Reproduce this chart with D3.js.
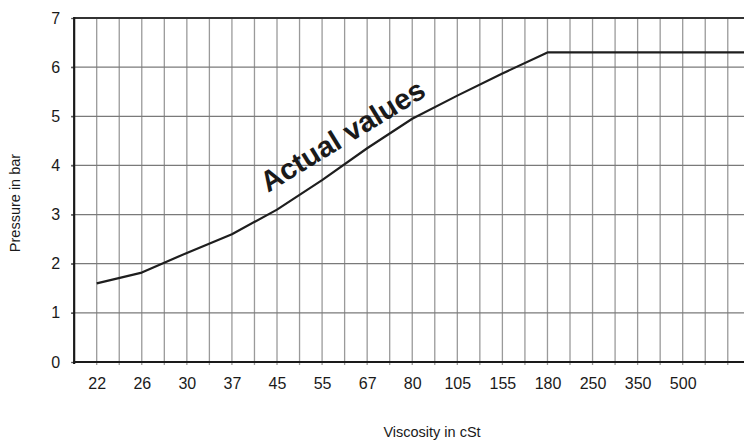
<!DOCTYPE html>
<html>
<head>
<meta charset="utf-8">
<script src="https://cdn.jsdelivr.net/npm/d3@7"></script>
<style>
  html, body { margin: 0; padding: 0; background: #fff; }
  svg { display: block; font-family: "Liberation Sans", Arial, Helvetica, sans-serif; }
</style>
</head>
<body>
<svg id="chart" width="744" height="442"></svg>
<script>
// Viscosity classes (cSt) along the bottom axis
const categories = ["22", "26", "30", "37", "45", "55", "67", "80", "105", "155", "180", "250", "350", "500"];
// Pressure (bar) reached at each viscosity
const pressure = [1.6, 1.82, 2.22, 2.6, 3.1, 3.7, 4.35, 4.95, 5.42, 5.87, 6.3, 6.3, 6.3, 6.3];
// Pressure axis ticks
const yTicks = [0, 1, 2, 3, 4, 5, 6, 7];

const W = 744, H = 442;
const svg = d3.select("#chart");

const x = d3.scalePoint().domain(categories).range([96.7, 682.7]);
const step = x.step();
const plotLeft = x(categories[0]) - step / 2;
const plotRight = W;
const y = d3.scaleLinear().domain([0, 7]).range([362, 18]);

// Vertical grid: one line per category plus one between each pair
const gridX = d3.range(0, 29).map(i => x(categories[0]) + i * step / 2);
svg.append("g")
  .selectAll("line")
  .data(gridX)
  .join("line")
  .attr("x1", d => d).attr("x2", d => d)
  .attr("y1", y(7)).attr("y2", y(0) + 3)
  .attr("stroke", "#9a9a9a")
  .attr("stroke-width", 1.3);

// Horizontal grid
svg.append("g")
  .selectAll("line")
  .data(yTicks.slice(1, -1))
  .join("line")
  .attr("x1", plotLeft - 3).attr("x2", plotRight)
  .attr("y1", d => y(d)).attr("y2", d => y(d))
  .attr("stroke", "#7a7a7a")
  .attr("stroke-width", 1.3);

// Frame: top border
svg.append("line")
  .attr("x1", plotLeft).attr("x2", plotRight)
  .attr("y1", y(7)).attr("y2", y(7))
  .attr("stroke", "#333").attr("stroke-width", 2);

// Y axis
const yAxis = svg.append("g")
  .attr("transform", `translate(${plotLeft},0)`)
  .call(d3.axisLeft(y).tickValues(yTicks).tickSize(3).tickPadding(11).tickFormat(d3.format("d")));
yAxis.select(".domain").remove();
yAxis.selectAll(".tick line").attr("stroke", "#555").attr("stroke-width", 1.3);
yAxis.selectAll("text")
  .attr("fill", "#1a1a1a")
  .style("font-size", "16px");
svg.append("line")
  .attr("x1", plotLeft).attr("x2", plotLeft)
  .attr("y1", y(7) - 1).attr("y2", y(0) + 2)
  .attr("stroke", "#1a1a1a").attr("stroke-width", 2.2);

// X axis
const xAxis = svg.append("g")
  .attr("transform", `translate(0,${y(0)})`)
  .call(d3.axisBottom(x).tickSize(0).tickPadding(16));
xAxis.select(".domain").remove();
xAxis.selectAll("text")
  .attr("fill", "#1a1a1a")
  .style("font-size", "16px");
svg.append("line")
  .attr("x1", plotLeft - 1).attr("x2", plotRight)
  .attr("y1", y(0)).attr("y2", y(0))
  .attr("stroke", "#1a1a1a").attr("stroke-width", 2.2);

// Pressure curve, held at its last value out to the right edge
const pts = categories.map((c, i) => [x(c), y(pressure[i])]);
pts.push([plotRight, y(pressure[pressure.length - 1])]);
svg.append("path")
  .attr("d", d3.line()(pts))
  .attr("fill", "none")
  .attr("stroke", "#1e1e1e")
  .attr("stroke-width", 2.2)
  .attr("stroke-linejoin", "round");

// Curve annotation
svg.append("text")
  .attr("transform", "translate(268,193) rotate(-31.5)")
  .attr("font-weight", "bold")
  .style("font-size", "29px")
  .attr("fill", "#1a1a1a")
  .text("Actual values");

// Axis titles
svg.append("text")
  .attr("x", 432).attr("y", 437)
  .attr("text-anchor", "middle")
  .style("font-size", "14.5px")
  .attr("fill", "#1a1a1a")
  .text("Viscosity in cSt");

svg.append("text")
  .attr("transform", "translate(20,203) rotate(-90)")
  .attr("text-anchor", "middle")
  .style("font-size", "14.5px")
  .attr("fill", "#1a1a1a")
  .text("Pressure in bar");
</script>
</body>
</html>
